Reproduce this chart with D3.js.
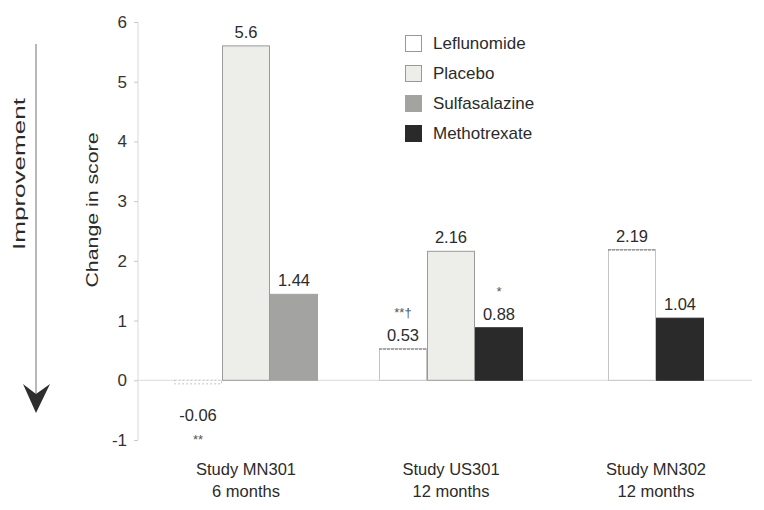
<!DOCTYPE html>
<html><head><meta charset="utf-8">
<script src="https://cdn.jsdelivr.net/npm/d3@7"></script>
<style>
body{margin:0;background:#fff;}
text{font-family:"Liberation Sans",Arial,sans-serif;fill:#2b2b2b;}
</style></head>
<body><svg id="c" width="764" height="510"></svg>
<script>
const studies = ["Study MN301","Study US301","Study MN302"];
const durations = ["6 months","12 months","12 months"];
const seriesNames = ["Leflunomide","Placebo","Sulfasalazine","Methotrexate"];
const leflunomide = [-0.06, 0.53, 2.19];
const placebo = [5.6, 2.16, null];
const sulfasalazine = [1.44, null, null];
const methotrexate = [null, 0.88, 1.04];
const leflunomideNotes = ["**","**†",""];
const methotrexateNotes = ["","*",""];
const valueLabels = {Leflunomide:["-0.06","0.53","2.19"],Placebo:["5.6","2.16",""],Sulfasalazine:["1.44","",""],Methotrexate:["","0.88","1.04"]};
const yTicks = [-1,0,1,2,3,4,5,6];

const fills = {Leflunomide:"#ffffff",Placebo:"#ededea",Sulfasalazine:"#a3a3a1",Methotrexate:"#2a2a2a"};
const strokes = {Leflunomide:"#c4c4c4",Placebo:"#9a9a9a",Sulfasalazine:"#a3a3a1",Methotrexate:"#2a2a2a"};
const valuesBy = {Leflunomide:leflunomide,Placebo:placebo,Sulfasalazine:sulfasalazine,Methotrexate:methotrexate};
const notesBy = {Leflunomide:leflunomideNotes,Methotrexate:methotrexateNotes};

const svg = d3.select("#c");
const y = d3.scaleLinear().domain([-1,6]).range([440,22]);
const x0 = d3.scalePoint().domain(studies).range([246,656]);
const barW = 48;

// y axis
const axisX = 138;
svg.append("line").attr("x1",axisX).attr("x2",axisX).attr("y1",y(6)).attr("y2",y(-1)).attr("stroke","#d8d8d8").attr("stroke-width",1);
const ax = svg.append("g").attr("transform",`translate(${axisX},0)`).call(d3.axisLeft(y).tickValues(yTicks).tickSize(4).tickPadding(7).tickFormat(d=>String(d)));
ax.select(".domain").remove();
ax.selectAll(".tick line").attr("stroke","#c8c8c8");
ax.selectAll(".tick text").attr("font-size",17).style("fill","#333");

// baseline
svg.append("line").attr("x1",axisX).attr("x2",752).attr("y1",y(0)).attr("y2",y(0)).attr("stroke","#dadada");

// bars
studies.forEach((s,i)=>{
  const present = seriesNames.filter(n=>valuesBy[n][i]!==null);
  const inner = d3.scaleBand().domain(present).range([x0(s)-present.length*barW/2, x0(s)+present.length*barW/2]);
  present.forEach(n=>{
    const v = valuesBy[n][i];
    const bx = inner(n), bw = inner.bandwidth();
    const top = Math.min(y(v),y(0)), h = Math.abs(y(v)-y(0));
    svg.append("rect").attr("x",bx+0.5).attr("y",top).attr("width",bw-1).attr("height",Math.max(h,3))
      .attr("fill",fills[n]).attr("stroke",strokes[n]).attr("stroke-width",1)
      .attr("stroke-dasharray", v<0 ? "2,2" : null);
    if (n==="Leflunomide" && v>0){
      svg.append("line").attr("x1",bx).attr("x2",bx+bw).attr("y1",y(v)+0.5).attr("y2",y(v)+0.5).attr("stroke","#777").attr("stroke-dasharray","3,1");
    }
    const cx = bx+bw/2;
    const note = notesBy[n] ? notesBy[n][i] : "";
    if (v>=0){
      svg.append("text").attr("x",cx).attr("y",y(v)-8).attr("text-anchor","middle").attr("font-size",16.5).text(valueLabels[n][i]);
      if(note) svg.append("text").attr("x",cx).attr("y",y(v)-32).attr("text-anchor","middle").attr("font-size",13).style("fill","#555").text(note);
    } else {
      svg.append("text").attr("x",cx).attr("y",y(0)+41).attr("text-anchor","middle").attr("font-size",16.5).text(valueLabels[n][i]);
      if(note) svg.append("text").attr("x",cx).attr("y",y(0)+64).attr("text-anchor","middle").attr("font-size",13).style("fill","#555").text(note);
    }
  });
  svg.append("text").attr("x",x0(s)).attr("y",475).attr("text-anchor","middle").attr("font-size",16.5).text(s);
  svg.append("text").attr("x",x0(s)).attr("y",497).attr("text-anchor","middle").attr("font-size",16.5).text(durations[i]);
});

// axis title
svg.append("text").attr("transform",`translate(98,210) rotate(-90)`).attr("text-anchor","middle").attr("font-size",16.5)
  .attr("textLength",155).attr("lengthAdjust","spacingAndGlyphs").text("Change in score");
svg.append("text").attr("transform",`translate(25,174) rotate(-90)`).attr("text-anchor","middle").attr("font-size",16.5)
  .attr("textLength",152).attr("lengthAdjust","spacingAndGlyphs").text("Improvement");
// improvement arrow
svg.append("line").attr("x1",36).attr("x2",36).attr("y1",44).attr("y2",398).attr("stroke","#888").attr("stroke-width",1.2);
svg.append("path").attr("d","M23,384 L36,394 L50,384 L36,413 Z").attr("fill","#2e2e2e");

// legend
const lg = svg.append("g").attr("transform","translate(405,35)");
seriesNames.forEach((n,i)=>{
  lg.append("rect").attr("x",0.5).attr("y",i*30+0.5).attr("width",16).attr("height",16).attr("fill",fills[n]).attr("stroke",n==="Placebo"||n==="Leflunomide"?"#999":fills[n]);
  lg.append("text").attr("x",28).attr("y",i*30+14).attr("font-size",17).text(n);
});
</script></body></html>
